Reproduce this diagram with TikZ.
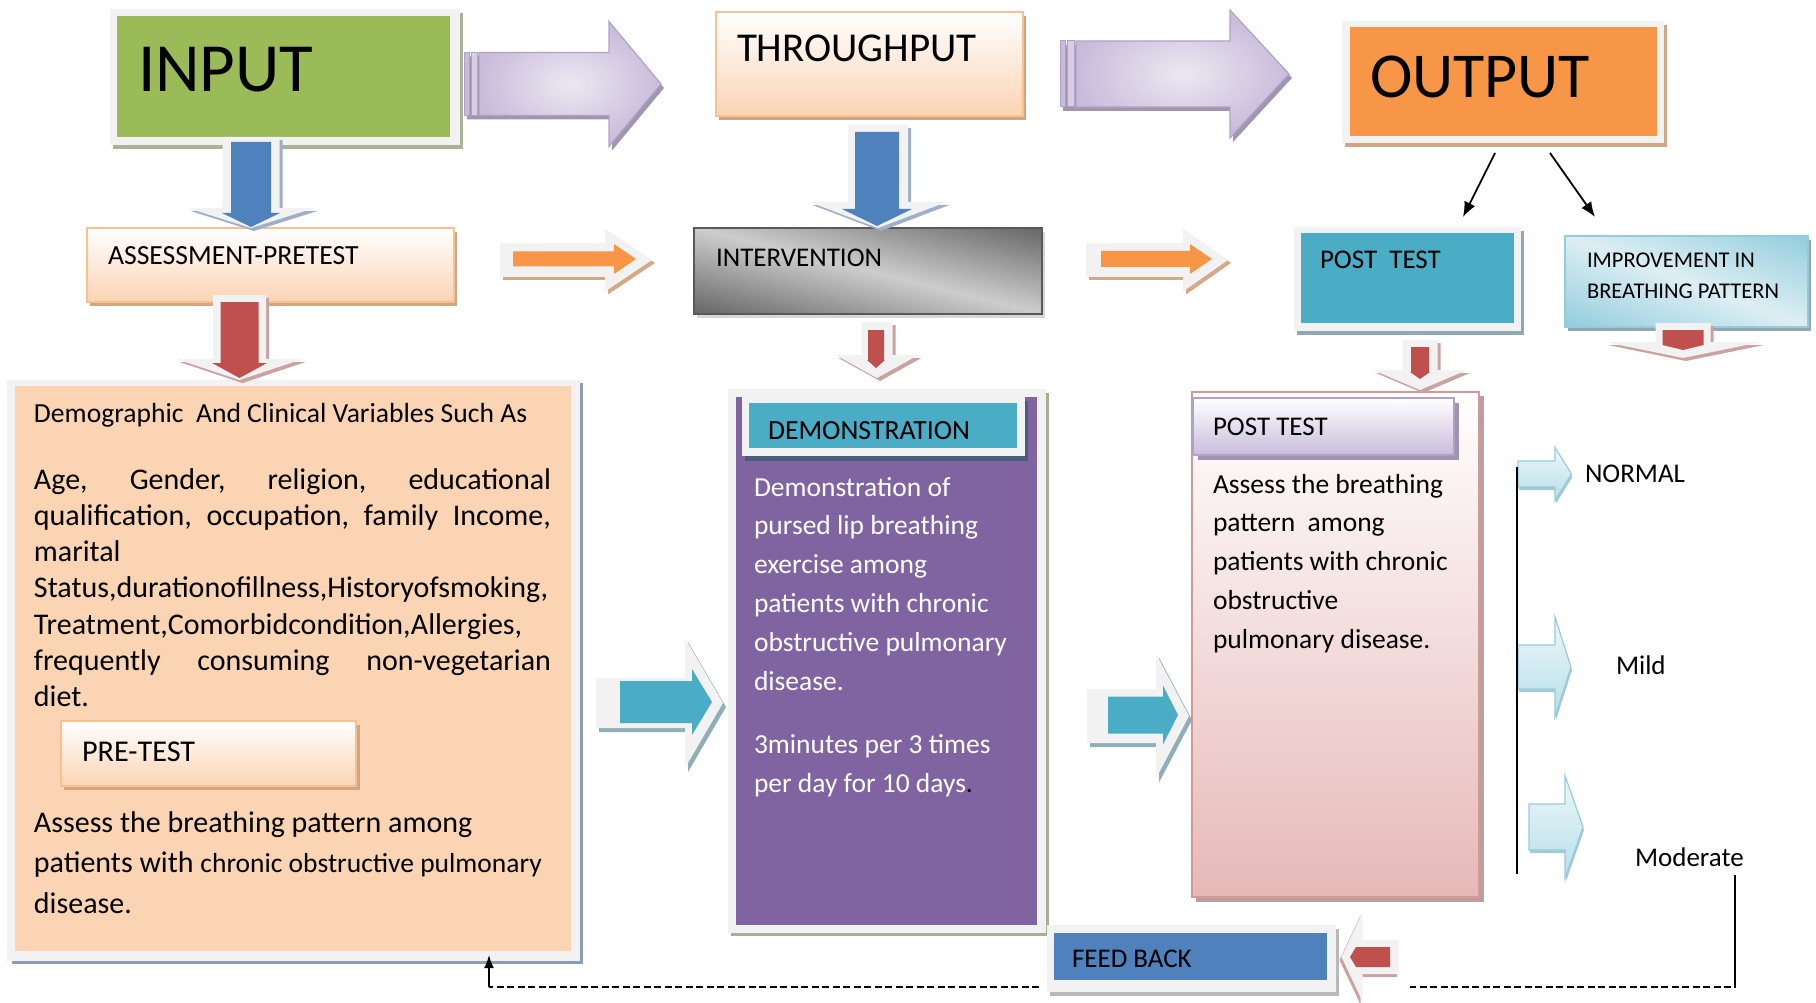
\documentclass[tikz,border=0pt]{standalone}
\usepackage{fontspec}
\setmainfont{Carlito}
\usetikzlibrary{arrows.meta,calc}
\definecolor{wfr}{HTML}{F2F2F2}
\definecolor{ingreen}{HTML}{9BBB59}
\definecolor{inshadow}{HTML}{A9B496}
\definecolor{outorange}{HTML}{F79646}
\definecolor{tanshadow}{HTML}{CFA584}
\definecolor{peach}{HTML}{FBD4B4}
\definecolor{peachb}{HTML}{FAC090}
\definecolor{tealc}{HTML}{4BACC6}
\definecolor{tealshadow}{HTML}{90A9B0}
\definecolor{fbblue}{HTML}{4F81BD}
\definecolor{redc}{HTML}{C0504D}
\definecolor{purplec}{HTML}{8064A2}
\definecolor{demshadow}{HTML}{A7AE92}
\definecolor{labshadow}{HTML}{4E5C7C}
\definecolor{lavb}{HTML}{B2A1C7}
\definecolor{lavlight}{HTML}{ECE8F2}
\definecolor{lavmid}{HTML}{C9BCDB}
\definecolor{lavshadow}{HTML}{A093B0}
\definecolor{lbdark}{HTML}{93CDDD}
\definecolor{lbmid}{HTML}{B7DEE8}
\definecolor{lblight}{HTML}{EEF7FA}
\definecolor{lbbox}{HTML}{DDEFF4}
\definecolor{ibshadow}{HTML}{91A8B0}
\definecolor{pinkb}{HTML}{D99694}
\definecolor{pinkc}{HTML}{E6B9B8}
\definecolor{pinkshadow}{HTML}{B9A0A0}
\definecolor{bigshadow}{HTML}{8C9CB4}
\definecolor{greyd}{HTML}{666666}
\definecolor{greyl}{HTML}{CDCDCD}
\definecolor{greyb}{HTML}{595959}
\definecolor{blueshadow}{HTML}{9DB0C8}
\definecolor{redshadow}{HTML}{CCA2A1}
\definecolor{orshadow}{HTML}{D4A985}
\definecolor{cyshadow}{HTML}{8FAEB7}
\definecolor{purshadow}{HTML}{A096AE}
\definecolor{lbshadow}{HTML}{A8C8D2}
% horizontal block arrow: style, x0, xbase, xtip, ymid, shaft half, head half
\newcommand{\harrow}[7]{\path[#1] (#2,#5-#6) -- (#3,#5-#6) -- (#3,#5-#7) -- (#4,#5) -- (#3,#5+#7) -- (#3,#5+#6) -- (#2,#5+#6) -- cycle;}
% vertical block arrow: style, y0, ybase, ytip, xmid, shaft half, head half
\newcommand{\varrow}[7]{\path[#1] (#5-#6,#2) -- (#5-#6,#3) -- (#5-#7,#3) -- (#5,#4) -- (#5+#7,#3) -- (#5+#6,#3) -- (#5+#6,#2) -- cycle;}
% diagonal band shading: cx, cy, ux, uy, D (corner distance), L (half length), dark, light
\newcommand{\diagshade}[8]{%
  \foreach \k in {-31,...,30} {%
    \pgfmathsetmacro\da{\k*3}%
    \pgfmathsetmacro\ff{min(abs(\da+1.5)/#5,1)*100}%
    \fill[#7!\ff!#8] ({#1-\da*#4-#6*#3},{#2+\da*#3-#6*#4}) -- ({#1-\da*#4+#6*#3},{#2+\da*#3+#6*#4}) -- ({#1-(\da+3.6)*#4+#6*#3},{#2+(\da+3.6)*#3+#6*#4}) -- ({#1-(\da+3.6)*#4-#6*#3},{#2+(\da+3.6)*#3-#6*#4}) -- cycle;
  }}
\begin{document}
\begin{tikzpicture}[x=1pt,y=-1pt,
  box/.style={rectangle, inner sep=0pt, outer sep=0pt},
  txt/.style={anchor=base west, inner sep=0pt, outer sep=0pt},
  f27/.style={font=\fontsize{27}{32}\selectfont},
  thinarrow/.style={line width=1.8pt, -{Latex[length=15pt,width=12pt]}},
  dashline/.style={line width=1.8pt, dash pattern=on 7pt off 3.5pt}]
\useasboundingbox (0,0) rectangle (1816,1003);

% ---------- INPUT ----------
\fill[inshadow] (113,13) rectangle (463,149);
\fill[wfr] (110,9) rectangle (460,145);
\node[box, fill=ingreen, minimum width=333, minimum height=121] (input) at (283.5,76.5) {};
\node[txt, font=\fontsize{69}{80}\selectfont] (tinput) at (138,92) {INPUT};

% ---------- THROUGHPUT ----------
\fill[tanshadow] (719,16) rectangle (1026,120);
\node[box, draw=peachb, line width=1.5pt, top color=white, bottom color=peach, minimum width=307, minimum height=104] (through) at (869.5,64) {};
\node[txt, font=\fontsize{41}{48}\selectfont] (tthrough) at (737,62) {THROUGHPUT};

% ---------- OUTPUT ----------
\fill[tanshadow] (1345,25) rectangle (1667,147);
\fill[wfr] (1342,21) rectangle (1664,143);
\node[box, fill=outorange, minimum width=307, minimum height=109] (output) at (1503.5,81.5) {};
\node[txt, font=\fontsize{64}{75}\selectfont] (toutput) at (1370,98) {OUTPUT};

% ---------- ASSESSMENT ----------
\fill[tanshadow] (90,232) rectangle (457,306);
\node[box, draw=peachb, line width=1.5pt, top color=white, bottom color=peach, minimum width=367, minimum height=74] (assess) at (270.5,265) {};
\node[txt, font=\fontsize{27.7}{32}\selectfont] (tassess) at (108,265) {ASSESSMENT-PRETEST};

% ---------- INTERVENTION ----------
\fill[greyl!80] (697,232) rectangle (1045,318);
\begin{scope}
  \clip (694,228) rectangle (1042,314);
  \diagshade{868}{271}{0.9708}{0.2399}{83.5}{200}{greyd}{greyl}
\end{scope}
\node[box, draw=greyb, line width=2pt, minimum width=348, minimum height=86] (interv) at (868,271) {};
\node[txt, f27] (tinterv) at (716,266) {INTERVENTION};

% ---------- POST TEST (top) ----------
\fill[tealshadow] (1297,231) rectangle (1524,335);
\fill[wfr] (1294,227) rectangle (1521,331);
\node[box, fill=tealc, minimum width=213, minimum height=90] (posttop) at (1407.5,278) {};
\node[txt, f27] (tposttop) at (1320,269) {POST\ \ TEST};

% ---------- IMPROVEMENT ----------
\fill[ibshadow] (1568,240) rectangle (1811,331);
\begin{scope}
  \clip (1565,236) rectangle (1808,327);
  \diagshade{1686.5}{281.5}{0.9365}{0.3507}{85.2}{150}{lbdark}{lbbox}
\end{scope}
\node[box, draw=lbdark, line width=1.5pt, minimum width=243, minimum height=91] (improve) at (1686.5,281.5) {};
\node[txt, font=\fontsize{22.5}{31}\selectfont] (timprove) at (1587,268) {\parbox[t]{218pt}{\raggedright IMPROVEMENT IN\\BREATHING PATTERN}};

% ---------- Demographic box ----------
\fill[bigshadow] (12,383) rectangle (583,964);
\fill[wfr] (7,380) rectangle (580,961);
\node[box, fill=peach, minimum width=556, minimum height=565] (demog) at (293,668.5) {};
\node[txt, font=\fontsize{27.6}{32}\selectfont] (tdemog1) at (34,422) {Demographic\ \ And Clinical Variables Such As};
\node[txt, font=\fontsize{30}{36.3}\selectfont] (tdemog2) at (34,489) {\parbox[t]{517pt}{%
\hbox to 517pt{Age,\hfill Gender,\hfill religion,\hfill educational}
\hbox to 517pt{qualification,\hfill occupation,\hfill family\hfill Income,}
\hbox{marital}
\hbox{Status,durationofillness,Historyofsmoking,}
\hbox{Treatment,Comorbidcondition,Allergies,}
\hbox to 517pt{frequently\hfill consuming\hfill non-vegetarian}
\hbox{diet.}}};
% PRE-TEST
\fill[tanshadow] (64,725) rectangle (360,790);
\node[box, draw=peachb, line width=1.5pt, top color=white, bottom color=peach, minimum width=295, minimum height=65] (pretest) at (208.5,753.5) {};
\node[txt, font=\fontsize{30.2}{34}\selectfont] (tpretest) at (82,761) {PRE-TEST};
\node[txt, font=\fontsize{30}{40.5}\selectfont] (tdemog3) at (34,832) {\parbox[t]{530pt}{%
\hbox{Assess the breathing pattern among}
\hbox{patients with {\fontsize{27.5}{40.5}\selectfont chronic obstructive pulmonary}}
\hbox{disease.}}};

% ---------- DEMONSTRATION ----------
\fill[demshadow] (731,393) rectangle (1049,936);
\fill[wfr] (728,389) rectangle (1046,933);
\node[box, fill=purplec, minimum width=301, minimum height=528] (demo) at (886.5,661) {};
\fill[labshadow] (745,401) rectangle (1028,461);
\fill[wfr] (742,397) rectangle (1025,456);
\node[box, fill=tealc, minimum width=268, minimum height=45] (demolabel) at (883,425.5) {};
\node[txt, font=\fontsize{27.7}{32}\selectfont] (tdemolabel) at (768,439) {DEMONSTRATION};
\node[txt, text=white, font=\fontsize{27.5}{38.8}\selectfont] (tdemo1) at (754,496) {\parbox[t]{280pt}{\raggedright Demonstration of\\pursed lip breathing\\exercise among\\patients with chronic\\obstructive pulmonary\\disease.}};
\node[txt, text=white, font=\fontsize{27.5}{38.8}\selectfont] (tdemo2) at (754,753.5) {\parbox[t]{280pt}{\raggedright 3minutes per 3 times\\per day for 10 days\textcolor{black}{.}}};

% ---------- POST TEST (big) ----------
\fill[pinkshadow] (1196,396) rectangle (1484,902);
\node[box, draw=pinkb, line width=2pt, top color=white, bottom color=pinkc, minimum width=287, minimum height=505] (postbig) at (1335.5,644.5) {};
\fill[lavshadow] (1198,403) rectangle (1459,460);
\node[box, draw=lavb, line width=1.5pt, top color=white, bottom color=lavmid, minimum width=261, minimum height=57] (postlabel) at (1323.5,426.5) {};
\node[txt, f27] (tpostlabel) at (1213,435) {POST TEST};
\node[txt, font=\fontsize{27.5}{38.9}\selectfont] (tpostbig) at (1213,493) {\parbox[t]{260pt}{\raggedright Assess the breathing\\pattern\ \ among\\patients with chronic\\obstructive\\pulmonary disease.}};

% ---------- FEED BACK ----------
\fill[gray!55] (1050,929) rectangle (1339,996);
\fill[wfr] (1047,925) rectangle (1336,992);
\node[box, fill=fbblue, minimum width=273, minimum height=47] (feedback) at (1190.5,956.5) {};
\node[txt, f27] (tfeedback) at (1072,967.5) {FEED BACK};

% ---------- result labels ----------
\node[txt, f27] (normal) at (1585,482) {NORMAL};
\node[txt, f27] (mild) at (1616,674) {Mild};
\node[txt, f27] (moderate) at (1635,866) {Moderate};

% ---------- big purple arrows ----------
\harrow{fill=purshadow, shift={(3,4)}}{464}{609}{661}{84}{31.5}{62.5}
\harrow{draw=lavb, line width=1.2pt, inner color=lavlight, outer color=lavmid}{479}{609}{661}{84}{31.5}{62.5}
\path[draw=lavb, line width=1pt, fill=lavmid] (464,52.5) rectangle (469,115.5);
\path[draw=lavb, line width=1pt, fill=lavmid!60!lavlight] (471,52.5) rectangle (477,115.5);
\harrow{fill=purshadow, shift={(3,4)}}{1060}{1230}{1289}{74}{33}{64}
\harrow{draw=lavb, line width=1.2pt, inner color=lavlight, outer color=lavmid}{1076}{1230}{1289}{74}{33}{64}
\path[draw=lavb, line width=1pt, fill=lavmid] (1060,41) rectangle (1065,107);
\path[draw=lavb, line width=1pt, fill=lavmid!60!lavlight] (1067,41) rectangle (1074,107);

% ---------- blue down arrows ----------
\varrow{fill=blueshadow, shift={(3,3)}}{137}{208}{228}{251}{28.5}{63.5}
\varrow{fill=wfr}{137}{208}{228}{251}{28.5}{63.5}
\varrow{fill=fbblue}{142}{213}{227}{251}{20}{29}
\varrow{fill=blueshadow, shift={(3,3)}}{125}{202}{228}{878}{30}{68.5}
\varrow{fill=wfr}{125}{202}{228}{878}{30}{68.5}
\varrow{fill=fbblue}{132}{209}{226}{877}{22}{35}

% ---------- red down arrows ----------
\varrow{fill=redshadow, shift={(3,3)}}{295}{359}{380}{239.5}{26.5}{63}
\varrow{fill=wfr}{295}{359}{380}{239.5}{26.5}{63}
\varrow{fill=redc}{302}{363}{378}{239.5}{19}{27.5}
\varrow{fill=redshadow, shift={(3,3)}}{322}{355}{378}{877}{15.5}{41.5}
\varrow{fill=wfr}{322}{355}{378}{877}{15.5}{41.5}
\varrow{fill=redc}{330}{360}{368}{876}{8}{9}
\varrow{fill=redshadow, shift={(3,3)}}{340}{370}{390}{1420}{17.5}{47}
\varrow{fill=wfr}{340}{370}{390}{1420}{17.5}{47}
\varrow{fill=redc}{347}{372}{379}{1420}{9}{10}
\varrow{fill=redshadow, shift={(3,3)}}{323}{342}{358}{1683}{27.5}{78}
\varrow{fill=wfr}{323}{342}{358}{1683}{27.5}{78}
\varrow{fill=redc}{330}{345}{350}{1683}{20.5}{20.5}

% ---------- orange arrows ----------
\harrow{fill=orshadow, shift={(3,3)}}{500}{605}{652}{260}{17}{31.5}
\harrow{fill=wfr}{500}{605}{652}{260}{17}{31.5}
\harrow{fill=outorange}{513}{614}{636}{259}{7.5}{15}
\harrow{fill=orshadow, shift={(3,3)}}{1086}{1183}{1228}{260}{17}{31.5}
\harrow{fill=wfr}{1086}{1183}{1228}{260}{17}{31.5}
\harrow{fill=outorange}{1101}{1190}{1212}{259}{8}{15}

% ---------- cyan arrows ----------
\harrow{fill=cyshadow, shift={(3,4)}}{596}{685}{723}{703}{25}{65}
\harrow{fill=wfr}{596}{685}{723}{703}{25}{65}
\harrow{fill=tealc}{620}{692}{712}{702}{21}{33}
\harrow{fill=cyshadow, shift={(3,4)}}{1087}{1156}{1189}{716}{27}{62.5}
\harrow{fill=wfr}{1087}{1156}{1189}{716}{27}{62.5}
\harrow{fill=tealc}{1108}{1163}{1178}{715}{18.5}{29.5}

% ---------- red left arrow (feedback) ----------
\harrow{fill=redshadow, shift={(-2,3)}}{1399}{1362.5}{1341.5}{957}{17}{44.5}
\harrow{fill=wfr}{1399}{1362.5}{1341.5}{957}{17}{44.5}
\harrow{fill=redc}{1390}{1356}{1350}{957}{10}{10}

% ---------- light blue arrows ----------
\harrow{fill=lbshadow, shift={(1,3)}}{1518}{1555}{1571.5}{474}{13}{26.5}
\harrow{draw=lbdark, line width=1.2pt, top color=lblight, bottom color=lbmid}{1518}{1555}{1571.5}{474}{13}{26.5}
\harrow{fill=lbshadow, shift={(1,3)}}{1518}{1555}{1571}{667}{22}{50}
\harrow{draw=lbdark, line width=1.2pt, top color=lblight, bottom color=lbmid}{1518}{1555}{1571}{667}{22}{50}
\harrow{fill=lbshadow, shift={(1,3)}}{1529}{1565}{1583}{827}{23}{51.5}
\harrow{draw=lbdark, line width=1.2pt, top color=lblight, bottom color=lbmid}{1529}{1565}{1583}{827}{23}{51.5}

% ---------- thin connectors ----------
\draw[thinarrow] ($(output.south)+(-8.5,17)$) -- ($(posttop.north)+(55.5,-16)$);
\draw[thinarrow] ($(output.south)+(46.5,17)$) -- ($(improve.north)+(-91.5,-19)$);

\coordinate (brtop) at (1517,467);
\coordinate (brbot) at (1517,874);
\draw[line width=1.5pt] (brtop) -- (brbot);

\coordinate (modtop) at (1735,875);
\coordinate (modbot) at (1735,988);
\coordinate (fbr) at (1410,987);
\coordinate (fbl) at (1039,987);
\coordinate (fbc) at (489,987);
\draw[line width=2pt] (modtop) -- (modbot);
\draw[dashline] (1731,987) -- (fbr);
\draw[dashline] (fbl) -- (fbc);
\draw[line width=1.8pt, -{Latex[length=13pt,width=10pt]}] (fbc) -- ($(demog.south -| fbc)+(0,4)$);
\end{tikzpicture}
\end{document}
